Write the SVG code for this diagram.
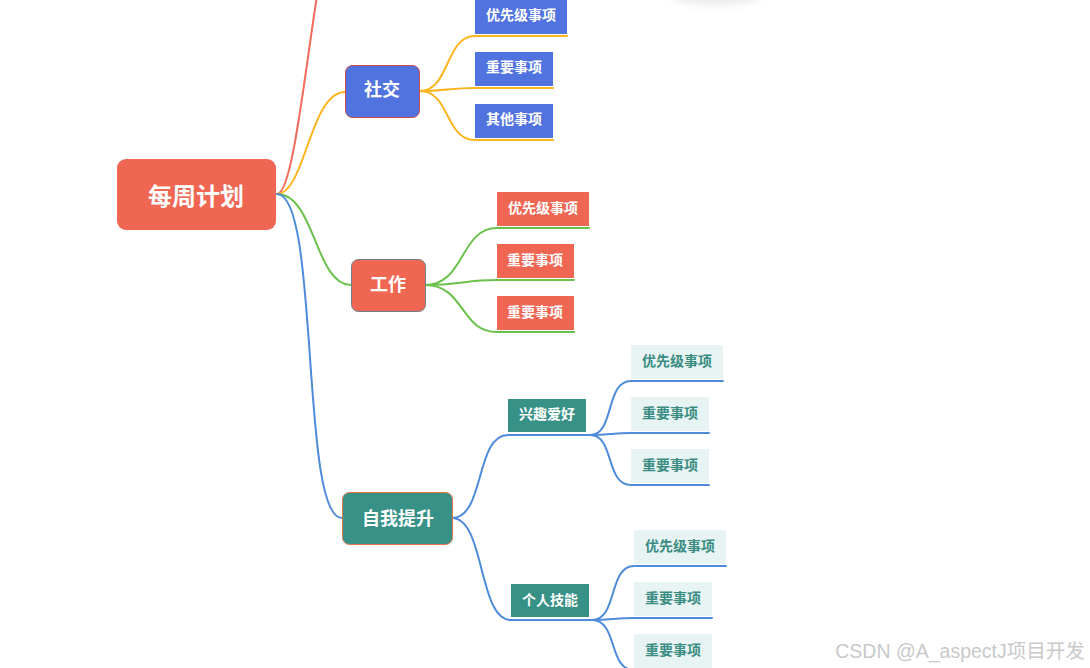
<svg xmlns="http://www.w3.org/2000/svg" width="1090" height="668" viewBox="0 0 1090 668">
<defs>
<style>
text{font-family:"Noto Sans CJK SC","Noto Sans",sans-serif;font-weight:bold;text-anchor:middle;dominant-baseline:central}
.w{fill:#ffffff}
.t{fill:#3a8c82}
.lf{font-size:14px}
.blue{fill:#5073e0}
.red{fill:#ef6653}
.teal{fill:#379187}
.light{fill:#e8f4f4}
.c{fill:none;stroke-width:2;stroke-linecap:round}
.cy{stroke:#fdb41f}
.cg{stroke:#6cc14c}
.cb{stroke:#4f8bdb}
.cr{stroke:#f26b5b}
</style>
<filter id="sh" x="-50%" y="-200%" width="200%" height="500%"><feGaussianBlur stdDeviation="6"/></filter>
</defs>
<rect width="1090" height="668" fill="#ffffff"/>
<ellipse cx="716" cy="-6" rx="45" ry="8" fill="#000" opacity="0.12" filter="url(#sh)"/>
<g id="connectors">
<path class="c cr" d="M277,194 C302,194 318,-120 350,-120"/>
<path class="c cy" d="M277,194 C305,194 310,92 345,92"/>
<path class="c cg" d="M277,194 C315,194 315,285 351,285"/>
<path class="c cb" d="M277,194 C320,194 300,518 342,518"/>
<path class="c cy" d="M420,91 C450,91 445,36 475,36 L567,36"/>
<path class="c cy" d="M420,91 C445,91 450,88 475,88 L553,88"/>
<path class="c cy" d="M420,91 C450,91 445,140 475,140 L553,140"/>
<path class="c cg" d="M425,285 C465,285 460,228 497,228 L589,228"/>
<path class="c cg" d="M425,285 C460,285 465,280 497,280 L574,280"/>
<path class="c cg" d="M425,285 C465,285 460,332 497,332 L574,332"/>
<path class="c cb" d="M452,518 C485,518 475,435 508,435 L590,435"/>
<path class="c cb" d="M452,518 C485,518 478,620 511,620 L592,620"/>
<path class="c cb" d="M590,435 C615,435 605,381 631,381 L723,381"/>
<path class="c cb" d="M590,435 C610,435 612,433 631,433 L709,433"/>
<path class="c cb" d="M590,435 C615,435 605,485 631,485 L709,485"/>
<path class="c cb" d="M592,620 C618,620 608,566 634,566 L726,566"/>
<path class="c cb" d="M592,620 C612,620 614,618 634,618 L712,618"/>
<path class="c cb" d="M592,620 C618,620 608,670 634,670 L712,670"/>
</g>
<g id="root"><rect x="117" y="159" width="159" height="71" rx="9" class="red"/><text x="196" y="194" class="w" font-size="24">每周计划</text></g>
<g id="social"><rect x="345.5" y="65.5" width="74" height="52" rx="7" class="blue" stroke="#cc4a4a" stroke-width="1"/><text x="382" y="88" class="w" font-size="18">社交</text></g>
<g id="s1"><rect x="475" y="0" width="92" height="34" class="blue"/><text x="521" y="14" class="w lf">优先级事项</text></g>
<g id="s2"><rect x="475" y="52" width="78" height="34" class="blue"/><text x="514" y="66" class="w lf">重要事项</text></g>
<g id="s3"><rect x="475" y="104" width="78" height="34" class="blue"/><text x="514" y="118" class="w lf">其他事项</text></g>
<g id="work"><rect x="351.5" y="259.5" width="74" height="52" rx="7" class="red" stroke="#6e7f8c" stroke-width="1"/><text x="388" y="283" class="w" font-size="18">工作</text></g>
<g id="w1"><rect x="497" y="192" width="92" height="34" class="red"/><text x="543" y="207" class="w lf">优先级事项</text></g>
<g id="w2"><rect x="497" y="244" width="77" height="34" class="red"/><text x="535" y="259" class="w lf">重要事项</text></g>
<g id="w3"><rect x="497" y="296" width="77" height="34" class="red"/><text x="535" y="311" class="w lf">重要事项</text></g>
<g id="self"><rect x="342.5" y="492.5" width="110" height="52" rx="7" class="teal" stroke="#e8744c" stroke-width="1"/><text x="398" y="517" class="w" font-size="18">自我提升</text></g>
<g id="hobby"><rect x="508" y="399" width="78" height="33" class="teal"/><text x="547" y="413" class="w lf">兴趣爱好</text></g>
<g id="h1"><rect x="631" y="345" width="92" height="34" class="light"/><text x="677" y="360" class="t lf">优先级事项</text></g>
<g id="h2"><rect x="631" y="397" width="78" height="34" class="light"/><text x="670" y="412" class="t lf">重要事项</text></g>
<g id="h3"><rect x="631" y="449" width="78" height="34" class="light"/><text x="670" y="464" class="t lf">重要事项</text></g>
<g id="skill"><rect x="511" y="584" width="78" height="33" class="teal"/><text x="550" y="599" class="w lf">个人技能</text></g>
<g id="k1"><rect x="634" y="530" width="92" height="34" class="light"/><text x="680" y="545" class="t lf">优先级事项</text></g>
<g id="k2"><rect x="634" y="582" width="78" height="34" class="light"/><text x="673" y="597" class="t lf">重要事项</text></g>
<g id="k3"><rect x="634" y="634" width="78" height="34" class="light"/><text x="673" y="649" class="t lf">重要事项</text></g>
<text x="960" y="651" font-size="19.5" fill="#c9c9c9" style="font-family:'Liberation Sans','Noto Sans CJK SC',sans-serif;font-weight:normal">CSDN @A_aspectJ项目开发</text>
</svg>
